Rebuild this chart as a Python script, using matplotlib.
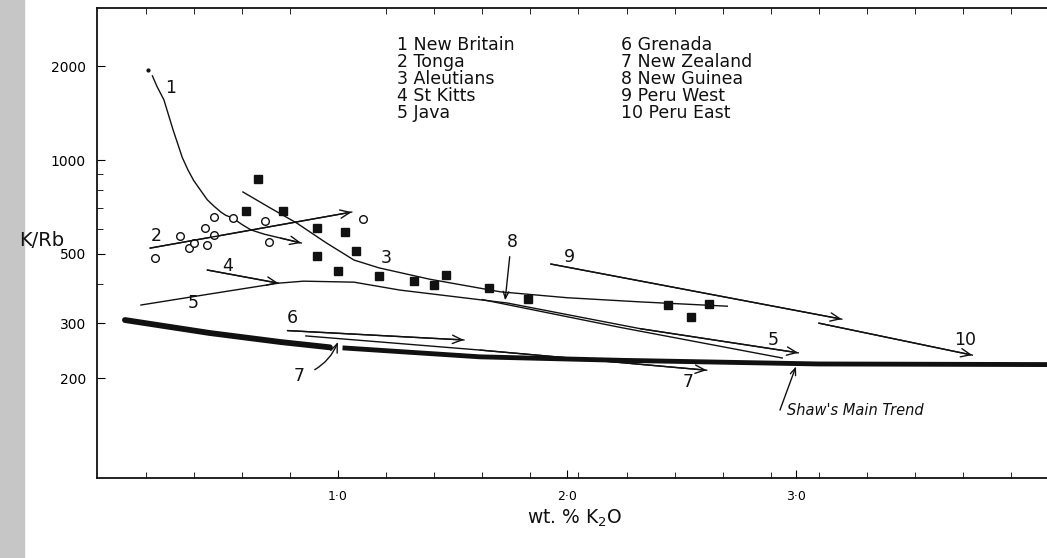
import numpy as np
import matplotlib
matplotlib.use('Agg')
import matplotlib.pyplot as plt
from matplotlib.ticker import FixedLocator, NullFormatter
from matplotlib.patches import Rectangle

# --- data (x = wt.% K2O, y = K/Rb) ---
nb_x = [0.19, 0.21, 0.24, 0.28, 0.30, 0.32, 0.345, 0.37, 0.40, 0.43, 0.46, 0.49,
        0.51, 0.54, 0.58, 0.62, 0.68, 0.75, 0.84]                               # 1 New Britain
nb_y = [1860, 1720, 1560, 1250, 1130, 1020, 930, 860, 800, 745, 710, 680,
        665, 652, 622, 597, 578, 562, 542]
nb_dot_x = [0.17]
nb_dot_y = [1950]

tonga_x = [0.18, 1.06]                                                          # 2 Tonga trend
tonga_y = [522, 681]
tonga_pts_x = [0.20, 0.31, 0.35, 0.37, 0.43, 0.42, 0.46, 0.46, 0.54, 0.68, 0.70, 1.11]
tonga_pts_y = [485, 571, 522, 542, 534, 605, 575, 657, 652, 637, 546, 647]

aleut_x = [0.585, 0.70, 0.82, 0.95, 1.07, 1.18, 1.40, 1.71, 2.00, 2.32, 2.70]  # 3 Aleutians
aleut_y = [790, 705, 628, 542, 478, 451, 415, 378, 362, 351, 340]
aleut_pts_x = [0.65, 0.60, 0.76, 0.91, 1.03, 0.91, 1.08, 1.00, 1.18, 1.33, 1.42, 1.47,
               1.66, 1.83, 2.44, 2.54, 2.62]
aleut_pts_y = [869, 686, 686, 605, 588, 493, 511, 441, 425, 409, 398, 428,
               389, 359, 343, 314, 345]

kitts_x = [0.43, 0.74]                                                          # 4 St Kitts
kitts_y = [444, 403]

java_x = [0.14, 0.44, 0.74, 0.85, 1.07, 1.27, 1.74, 2.32, 3.01]                # 5 Java
java_y = [343, 372, 403, 409, 406, 383, 348, 288, 241]

gren_x = [0.78, 1.55]                                                           # 6 Grenada
gren_y = [284, 265]

nz_x = [0.86, 1.62, 2.61]                                                       # 7 New Zealand
nz_y = [273, 246, 212]

ng_x = [1.63, 2.23, 2.94]                                                       # 8 New Guinea
ng_y = [357, 291, 232]

peruw_x = [1.93, 3.20]                                                          # 9 Peru West
peruw_y = [464, 309]

perue_x = [3.10, 3.77]                                                          # 10 Peru East
perue_y = [300, 237]

shaw1_x = [0.07, 0.44, 0.75, 0.965]                                             # Shaw's main trend
shaw1_y = [307, 279, 261, 251]
shaw2_x = [1.02, 1.62, 2.24, 3.10, 4.10]
shaw2_y = [250, 234, 228, 222, 221]

legend_left = ['1 New Britain', '2 Tonga', '3 Aleutians', '4 St Kitts', '5 Java']
legend_right = ['6 Grenada', '7 New Zealand', '8 New Guinea', '9 Peru West', '10 Peru East']

W, H = 1047, 558
fig = plt.figure(figsize=(W / 100, H / 100), dpi=100)
fig.patches.append(Rectangle((0, 0), 24 / W, 1, transform=fig.transFigure,
                             color='#c6c6c6', zorder=0))

ax = fig.add_axes([97 / W, 1 - 478 / H, 1 - 97 / W, (478 - 8) / H])
ax.set_yscale('log')
ax.set_xlim(-0.052, 4.096)
ax.set_ylim(95.7, 3070)
ax.spines['right'].set_visible(False)
for s in ['top', 'left', 'bottom']:
    ax.spines[s].set_linewidth(1.3)
    ax.spines[s].set_color('#111111')

ax.set_yticks([200, 300, 500, 1000, 2000])
ax.set_yticklabels(['200', '300', '500', '1000', '2000'])
ax.yaxis.set_minor_locator(FixedLocator([400, 600, 700, 800, 900]))
ax.yaxis.set_minor_formatter(NullFormatter())
ax.set_xticks([1, 2, 3])
ax.set_xticklabels(['1·0', '2·0', '3·0'])
ax.xaxis.set_minor_locator(FixedLocator(np.arange(0.16, 4.1, 0.21)))
ax.tick_params(axis='y', which='major', direction='in', length=6, pad=8, labelsize=10)
ax.tick_params(axis='y', which='minor', direction='in', length=4)
ax.tick_params(axis='x', which='major', direction='in', length=6, pad=9, labelsize=9)
ax.tick_params(axis='x', which='minor', direction='in', length=4, top=True)

k = '#111111'
lw = 1.0
arrow = dict(arrowstyle='->,head_length=0.7,head_width=0.3', lw=lw, color=k,
             shrinkA=0, shrinkB=0)


def curve(xs, ys, head=True):
    ax.plot(xs, ys, color=k, lw=lw)
    if head:
        ax.annotate('', xy=(xs[-1], ys[-1]), xytext=(xs[-2], ys[-2]), arrowprops=arrow)


curve(nb_x, nb_y)
curve(tonga_x, tonga_y)
curve(aleut_x, aleut_y, head=False)
curve(kitts_x, kitts_y)
curve(java_x, java_y)
curve(gren_x, gren_y)
curve(nz_x, nz_y)
curve(ng_x, ng_y, head=False)
curve(peruw_x, peruw_y)
curve(perue_x, perue_y)

ax.plot(shaw1_x, shaw1_y, color=k, lw=4.2, solid_capstyle='round')
ax.plot(shaw2_x, shaw2_y, color=k, lw=3.5, solid_capstyle='butt')

ax.plot(nb_dot_x, nb_dot_y, 'o', color=k, ms=2)
ax.plot(tonga_pts_x, tonga_pts_y, 'o', mfc='white', mec=k, mew=1, ms=5.5)
ax.plot(aleut_pts_x, aleut_pts_y, 's', color=k, ms=5.5)

fs = 12.5
labels = [('1', 0.27, 1700), ('2', 0.205, 571), ('3', 1.21, 485), ('4', 0.52, 457),
          ('5', 0.37, 348), ('5', 2.90, 265), ('6', 0.80, 311), ('7', 2.53, 194),
          ('8', 1.76, 545), ('9', 2.01, 489), ('10', 3.74, 265)]
for t, x, y in labels:
    ax.text(x, y, t, fontsize=fs, ha='center', va='center', color=k)

ax.annotate('7', xy=(1.0, 261), xytext=(0.83, 203), fontsize=fs, ha='center', va='center',
            color=k, arrowprops=dict(arrowstyle='->,head_length=0.5,head_width=0.2', lw=lw,
                                     color=k, connectionstyle='arc3,rad=0.25',
                                     shrinkA=6, shrinkB=0))
ax.annotate('', xy=(1.73, 355), xytext=(1.75, 490),
            arrowprops=dict(arrowstyle='->,head_length=0.5,head_width=0.2', lw=lw,
                            color=k, shrinkA=0, shrinkB=0))
ax.annotate('', xy=(3.0, 218), xytext=(2.93, 158),
            arrowprops=dict(arrowstyle='->,head_length=0.5,head_width=0.2', lw=lw,
                            color=k, shrinkA=0, shrinkB=0))
ax.text(2.96, 158, "Shaw's Main Trend", fontsize=10.5, style='italic', ha='left',
        va='center', color=k)

for i, t in enumerate(legend_left):
    fig.text(397 / W, 1 - (45 + 17 * i) / H, t, fontsize=12.5, ha='left', va='center', color=k)
for i, t in enumerate(legend_right):
    fig.text(621 / W, 1 - (45 + 17 * i) / H, t, fontsize=12.5, ha='left', va='center', color=k)

fig.text(42 / W, 1 - 240 / H, 'K/Rb', fontsize=14, ha='center', va='center', color=k)
fig.text(575 / W, 1 - 518 / H, 'wt. % K$_2$O', fontsize=13.5, ha='center', va='center', color=k)

fig.savefig('out.png', dpi=100)
